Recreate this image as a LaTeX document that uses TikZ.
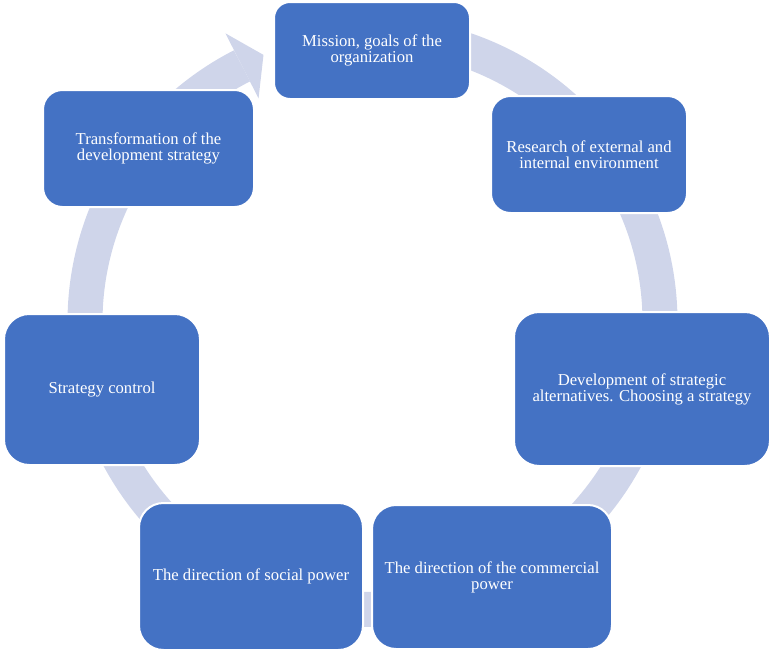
\documentclass[tikz,border=0pt]{standalone}
\usepackage{fontspec}
\setmainfont{Liberation Serif}
\usepackage{xcolor}
\usepackage{tikz}

\definecolor{boxblue}{HTML}{4472C4}
\definecolor{ringblue}{HTML}{CFD5EA}

\begin{document}
\begin{tikzpicture}[
    x=0.75pt, y=-0.75pt,
    box/.style={rectangle, draw=white, line width=1.5pt, fill=boxblue, text=white, align=center, inner sep=2pt, font=\fontsize{12.5}{12}\selectfont},
    ring/.style={draw=ringblue, line width=26.25pt}
]
    \useasboundingbox (0,0) rectangle (775,653);
    \coordinate (c) at (372.5,322);

    % cycle arrow behind the boxes
    \draw[ring] ([shift={(c)}]-90:287.5) arc[start angle=-90, end angle=243, radius=287.5];
    \coordinate (tipout) at ([shift={(c)}]243:324);
    \coordinate (tip) at ([shift={(c)}]247.8:288.5);
    \coordinate (tipin) at ([shift={(c)}]243:251);
    \fill[ringblue] (tipout) -- (tip) -- (tipin) -- cycle;

    \node[box, minimum width=147pt, minimum height=72.75pt, rounded corners=12pt] (mission) at (372,50.5) {Mission, goals of the\\organization};
    \node[box, minimum width=147pt, minimum height=87.75pt, rounded corners=14.6pt] (research) at (589,154.5) {Research of external and\\internal environment};
    \node[box, minimum width=192pt, minimum height=115.5pt, rounded corners=19pt] (choose) at (642,389) {Development of strategic\\alternatives. Choosing a strategy};
    \node[box, minimum width=180pt, minimum height=108pt, rounded corners=18pt] (commercial) at (492,577) {The direction of the commercial\\power};
    \node[box, minimum width=168pt, minimum height=110.25pt, rounded corners=18.4pt] (social) at (251,576.5) {The direction of social power};
    \node[box, minimum width=147pt, minimum height=113.25pt, rounded corners=19pt] (control) at (102,389.5) {Strategy control};
    \node[box, minimum width=158.25pt, minimum height=87.75pt, rounded corners=14.6pt] (transform) at (148.5,148.5) {Transformation of the\\development strategy};
\end{tikzpicture}
\end{document}
